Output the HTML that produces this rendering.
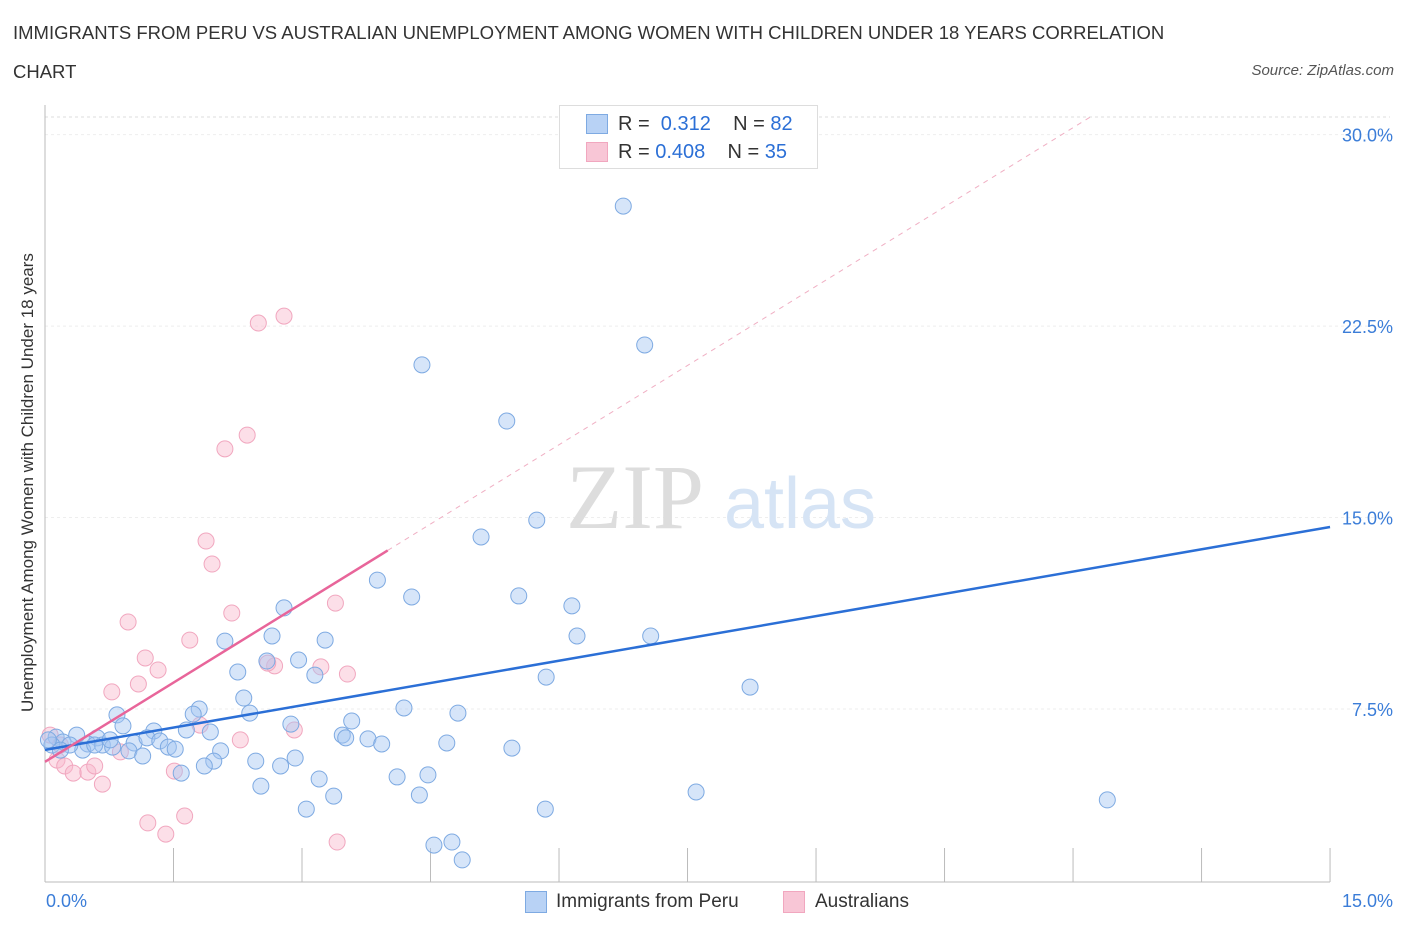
<!DOCTYPE html>
<html><head><meta charset="utf-8"><style>
body{margin:0;background:#fff;font-family:"Liberation Sans",sans-serif;}
#wrap{position:relative;width:1406px;height:930px;overflow:hidden;}
.t{position:absolute;white-space:nowrap;}
</style></head><body>
<div id="wrap">
<div class="t" style="left:13px;top:22px;font-size:18.5px;color:#333;">IMMIGRANTS FROM PERU VS AUSTRALIAN UNEMPLOYMENT AMONG WOMEN WITH CHILDREN UNDER 18 YEARS CORRELATION</div>
<div class="t" style="left:13px;top:61px;font-size:18.5px;color:#333;">CHART</div>
<div class="t" style="right:12px;top:62px;font-size:15px;color:#555;font-style:italic;">Source: ZipAtlas.com</div>
<svg id="svg" width="1406" height="930" style="position:absolute;left:0;top:0"></svg>
</div>
<script>
const blueX=[6.75,7.00,4.40,5.39,5.74,5.09,3.88,4.28,5.53,6.15,2.79,6.21,7.07,2.10,2.65,3.27,2.96,2.59,5.85,2.25,3.15,8.23,2.32,0.84,1.80,1.73,2.39,4.19,4.82,3.58,2.87,0.91,1.27,1.65,1.93,3.47,3.51,3.77,0.13,0.37,0.61,0.21,0.50,0.67,1.04,1.19,1.34,1.44,1.52,3.93,4.69,5.45,2.05,0.98,1.14,0.79,0.44,0.08,0.04,2.46,1.97,1.86,2.75,2.92,1.59,3.20,4.11,4.47,2.52,7.60,12.40,3.37,4.37,3.05,5.84,4.54,4.75,4.87,0.29,0.18,0.76,0.58];
const blueY=[27.2,21.76,20.98,18.78,14.90,14.24,12.55,11.89,11.93,11.54,11.46,10.36,10.36,10.16,10.36,10.20,9.42,9.38,8.75,8.95,8.83,8.36,7.93,7.27,7.50,7.30,7.34,7.54,7.34,7.03,6.91,6.84,6.64,6.68,6.60,6.48,6.37,6.33,6.40,6.48,6.37,6.21,6.13,6.09,6.17,6.37,6.25,6.01,5.93,6.13,6.17,5.97,5.86,5.86,5.66,6.01,5.89,6.09,6.29,5.46,5.46,5.27,5.27,5.58,4.99,4.76,4.84,4.92,4.48,4.25,3.94,4.09,4.13,3.58,3.58,2.17,2.29,1.59,6.09,5.89,6.29,6.09];
const pinkX=[2.79,2.49,2.36,2.10,1.88,1.95,2.18,3.39,0.97,1.69,1.17,1.32,3.22,3.53,2.68,2.60,0.78,1.09,1.81,2.91,2.28,0.06,0.18,0.14,0.23,0.33,0.50,0.58,0.67,0.88,1.51,1.63,1.20,1.41,3.41];
const pinkY=[22.89,22.62,18.23,17.69,14.08,13.18,11.26,11.65,10.91,10.20,9.50,9.03,9.15,8.87,9.19,9.30,8.17,8.48,6.87,6.68,6.29,6.48,6.09,5.50,5.27,4.99,5.03,5.27,4.56,5.82,5.07,3.31,3.04,2.60,2.29];
const blueLine=[5.9,14.63];
const pinkLine=[5.43,2.07];
const yTicks=[7.5,15.0,22.5,30.0];
const xTicks=[0,1.5,3,4.5,6,7.5,9,10.5,12,13.5,15];
const X=v=>45+v*85.67, Y=v=>900.5-v*25.53;
const svg=document.getElementById('svg');const NS='http://www.w3.org/2000/svg';
function mk(tag,a,p){const e=document.createElementNS(NS,tag);for(const k in a)e.setAttribute(k,a[k]);(p||svg).appendChild(e);return e;}
let e;
e=mk('line',{x1:45,y1:117,x2:1390,y2:117,stroke:'#ddd','stroke-dasharray':'3,3'});


yTicks.forEach(v=>{const l=mk('line',{x1:45,y1:Y(v),x2:1390,y2:Y(v),stroke:'#eee','stroke-dasharray':'3,3'});


const t=mk('text',{x:1393,y:Y(v)+7,'text-anchor':'end','font-size':18,fill:'#3b7dd8','font-family':'Liberation Sans'});t.textContent=v.toFixed(1)+'%';

});
e=mk('line',{x1:45,y1:105,x2:45,y2:882,stroke:'#bbb'});


e=mk('line',{x1:45,y1:882,x2:1330,y2:882,stroke:'#bbb'});


xTicks.forEach(v=>{const l=mk('line',{x1:X(v),y1:848,x2:X(v),y2:882,stroke:'#bbb'});

});
e=mk('text',{x:635,y:528,'text-anchor':'middle','font-size':92,fill:'#ddd','font-family':'Liberation Serif'});e.textContent='ZIP';


e=mk('text',{x:800,y:528,'text-anchor':'middle','font-size':72,fill:'#d6e4f5','font-family':'Liberation Sans'});e.textContent='atlas';


const px2=(30.7-pinkLine[0])/pinkLine[1];
e=mk('line',{x1:X(4),y1:Y(pinkLine[0]+pinkLine[1]*4),x2:X(px2),y2:Y(30.7),stroke:'#f0b0c4','stroke-dasharray':'5,5'});


pinkX.forEach((x,i)=>{const c=mk('circle',{cx:X(x),cy:Y(pinkY[i]),r:8,fill:'rgba(248,185,205,0.45)',stroke:'#f1a7bf','stroke-width':1});

});
blueX.forEach((x,i)=>{const c=mk('circle',{cx:X(x),cy:Y(blueY[i]),r:8,fill:'rgba(165,198,242,0.45)',stroke:'#7eaae2','stroke-width':1});

});
e=mk('line',{x1:X(0),y1:Y(blueLine[0]),x2:X(15),y2:Y(blueLine[1]),stroke:'#2b6fd6','stroke-width':2.5});


e=mk('line',{x1:X(0),y1:Y(pinkLine[0]),x2:X(4),y2:Y(pinkLine[0]+pinkLine[1]*4),stroke:'#e8659a','stroke-width':2.5});


</script>
<div class="t" style="left:46px;top:891px;font-size:18px;color:#3b7dd8;">0.0%</div>
<div class="t" style="right:13px;top:891px;font-size:18px;color:#3b7dd8;">15.0%</div>
<div class="t" style="left:-192px;top:482px;width:440px;text-align:center;font-size:17px;color:#333;transform:rotate(-90deg);">Unemployment Among Women with Children Under 18 years</div>
<div style="position:absolute;left:559px;top:105px;width:257px;height:62px;border:1px solid #ddd;background:#fff;font-size:20px;color:#333;">
<div style="position:absolute;left:26px;top:8px;width:20px;height:18px;background:#b8d2f5;border:1px solid #7eaae2;"></div>
<div class="t" style="left:58px;top:7px;">R = &nbsp;<span style="color:#2b6fd6">0.312</span>&nbsp;&nbsp;&nbsp; N = <span style="color:#2b6fd6">82</span></div>
<div style="position:absolute;left:26px;top:36px;width:20px;height:18px;background:#f8c6d6;border:1px solid #f1a7bf;"></div>
<div class="t" style="left:58px;top:35px;">R = <span style="color:#2b6fd6">0.408</span>&nbsp;&nbsp;&nbsp; N = <span style="color:#2b6fd6">35</span></div>
</div>
<div style="position:absolute;left:525px;top:891px;width:20px;height:20px;background:#b8d2f5;border:1px solid #7eaae2;"></div>
<div class="t" style="left:556px;top:891px;font-size:19px;color:#333;">Immigrants from Peru</div>
<div style="position:absolute;left:783px;top:891px;width:20px;height:20px;background:#f8c6d6;border:1px solid #f1a7bf;"></div>
<div class="t" style="left:815px;top:891px;font-size:19px;color:#333;">Australians</div>
</body></html>
